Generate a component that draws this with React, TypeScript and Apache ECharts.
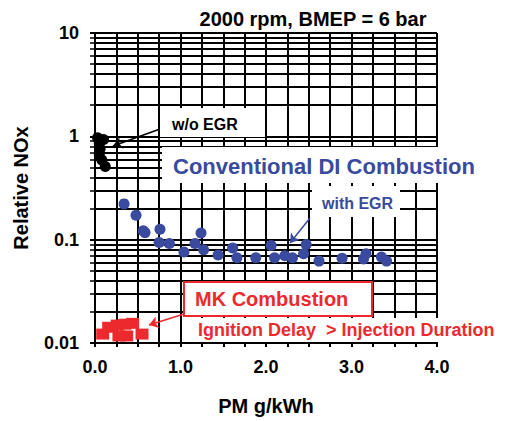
import React, { useEffect, useRef } from "react";
import * as echarts from "echarts";

const FONT = "'Liberation Sans', Arial, Helvetica, sans-serif";
const BLUE = "#3A4A9E";
const RED = "#EC2A2E";

const xTickValues = [0, 1, 2, 3, 4];
const yTickLabels = ["0.01", "0.1", "1", "10"];

const woEgrX = [0.03, 0.1, 0.05, 0.06, 0.05, 0.08, 0.12];
const woEgrY = [0.97, 0.93, 0.85, 0.76, 0.67, 0.59, 0.51];

const egrX = [0.34, 0.48, 0.565, 0.585, 0.76, 0.75, 0.87, 1.04, 1.17, 1.24, 1.27, 1.44, 1.61, 1.66, 1.88, 2.06, 2.1, 2.22, 2.31, 2.44, 2.47, 2.62, 2.89, 3.14, 3.17, 3.35, 3.41];
const egrY = [0.222, 0.172, 0.122, 0.117, 0.126, 0.094, 0.092, 0.076, 0.092, 0.116, 0.08, 0.071, 0.083, 0.067, 0.067, 0.088, 0.067, 0.07, 0.067, 0.073, 0.09, 0.062, 0.066, 0.065, 0.073, 0.068, 0.062];

const mkX = [0.09, 0.16, 0.26, 0.35, 0.44, 0.28, 0.37, 0.55];
const mkY = [0.0122, 0.0142, 0.0149, 0.0152, 0.0155, 0.0117, 0.0117, 0.0122];

const zip = (xs: number[], ys: number[]) => xs.map((x, i) => [x, ys[i]]);

export default function App() {
  const ref = useRef<HTMLDivElement>(null);
  useEffect(() => {
    if (!ref.current) return;
    const chart = echarts.init(ref.current, undefined, { renderer: "svg" });
    const arrow = (from: number[], to: number[], color: string) => ({
      silent: true,
      symbol: ["none", "arrow"],
      symbolSize: 9,
      label: { show: false },
      lineStyle: { color, width: 1.5, type: "solid" },
      data: [[{ x: from[0], y: from[1] }, { x: to[0], y: to[1] }]],
      animation: false,
    });
    chart.setOption({
      animation: false,
      backgroundColor: "#fff",
      textStyle: { fontFamily: FONT },
      grid: { left: 95, top: 33, right: 70, bottom: 74 },
      xAxis: {
        type: "value",
        min: 0,
        max: 4,
        interval: 0.25,
        name: "PM g/kWh",
        nameLocation: "middle",
        nameGap: 53,
        nameTextStyle: { fontFamily: FONT, fontWeight: "bold", fontSize: 20, color: "#000" },
        axisLine: { show: true, lineStyle: { color: "#000", width: 2 } },
        axisTick: { show: true, length: 4, lineStyle: { color: "#000", width: 2 } },
        axisLabel: {
          margin: 15,
          fontFamily: FONT,
          fontWeight: "bold",
          fontSize: 18,
          color: "#000",
          formatter: (v: number) => (xTickValues.includes(v) ? v.toFixed(1) : ""),
        },
        splitLine: { show: true, lineStyle: { color: "#000", width: 2 } },
      },
      yAxis: {
        type: "log",
        logBase: 10,
        min: 0.01,
        max: 10,
        name: "Relative NOx",
        nameLocation: "middle",
        nameGap: 64,
        nameTextStyle: { fontFamily: FONT, fontWeight: "bold", fontSize: 20, color: "#000" },
        axisLine: { show: true, lineStyle: { color: "#000", width: 2 } },
        axisTick: { show: true, length: 5, lineStyle: { color: "#000", width: 2 } },
        minorTick: { show: true, splitNumber: 9, length: 5, lineStyle: { color: "#000", width: 1.5 } },
        minorSplitLine: { show: true, lineStyle: { color: "#000", width: 2 } },
        axisLabel: {
          margin: 16,
          fontFamily: FONT,
          fontWeight: "bold",
          fontSize: 18,
          color: "#000",
          formatter: (v: number) => {
            const s = String(v);
            return yTickLabels.includes(s) ? s : "";
          },
        },
        splitLine: { show: true, lineStyle: { color: "#000", width: 2 } },
      },
      series: [
        {
          type: "scatter",
          name: "w/o EGR",
          data: zip(woEgrX, woEgrY),
          symbol: "circle",
          symbolSize: 11,
          itemStyle: { color: "#000", opacity: 1 },
          markLine: arrow([160, 129], [113, 146], "#000"),
        },
        {
          type: "scatter",
          name: "with EGR",
          data: zip(egrX, egrY),
          symbol: "circle",
          symbolSize: 11,
          itemStyle: { color: BLUE, opacity: 1 },
          markLine: arrow([310, 218], [290, 243], BLUE),
        },
        {
          type: "scatter",
          name: "MK",
          data: zip(mkX, mkY),
          symbol: "rect",
          symbolSize: [13, 11],
          itemStyle: { color: RED, opacity: 1 },
          markLine: arrow([184, 314], [149, 325], RED),
        },
      ],
      graphic: [
        {
          type: "text",
          x: 313,
          y: 19,
          z: 101,
          style: { text: "2000 rpm, BMEP = 6 bar", fill: "#000", font: `bold 20px ${FONT}`, textAlign: "center", textVerticalAlign: "middle" },
        },
        { type: "rect", z: 100, shape: { x: 160, y: 108, width: 105, height: 29 }, style: { fill: "#fff" } },
        {
          type: "text",
          x: 172,
          y: 124,
          z: 101,
          style: { text: "w/o EGR", fill: "#000", font: `bold 16px ${FONT}`, textAlign: "left", textVerticalAlign: "middle" },
        },
        { type: "rect", z: 100, shape: { x: 162, y: 147, width: 340, height: 36 }, style: { fill: "#fff" } },
        {
          type: "text",
          x: 173,
          y: 166,
          z: 101,
          style: { text: "Conventional DI Combustion", fill: BLUE, font: `bold 22px ${FONT}`, textAlign: "left", textVerticalAlign: "middle" },
        },
        { type: "rect", z: 100, shape: { x: 312, y: 186, width: 88, height: 31 }, style: { fill: "#fff" } },
        {
          type: "text",
          x: 322,
          y: 203,
          z: 101,
          style: { text: "with EGR", fill: BLUE, font: `bold 16px ${FONT}`, textAlign: "left", textVerticalAlign: "middle" },
        },
        { type: "rect", z: 100, shape: { x: 190, y: 318, width: 317, height: 24 }, style: { fill: "#fff" } },
        {
          type: "rect",
          z: 100,
          shape: { x: 184, y: 282, width: 188, height: 34 },
          style: { fill: "#fff", stroke: RED, lineWidth: 2 },
        },
        {
          type: "text",
          x: 195,
          y: 299,
          z: 101,
          style: { text: "MK Combustion", fill: RED, font: `bold 20px ${FONT}`, textAlign: "left", textVerticalAlign: "middle" },
        },
        {
          type: "text",
          x: 198,
          y: 330,
          z: 101,
          style: { text: "Ignition Delay  > Injection Duration", fill: RED, font: `bold 18px ${FONT}`, textAlign: "left", textVerticalAlign: "middle" },
        },
      ],
    });
    return () => chart.dispose();
  }, []);
  return <div ref={ref} style={{ position: "fixed", left: 0, top: 0, width: 507, height: 421 }} />;
}
